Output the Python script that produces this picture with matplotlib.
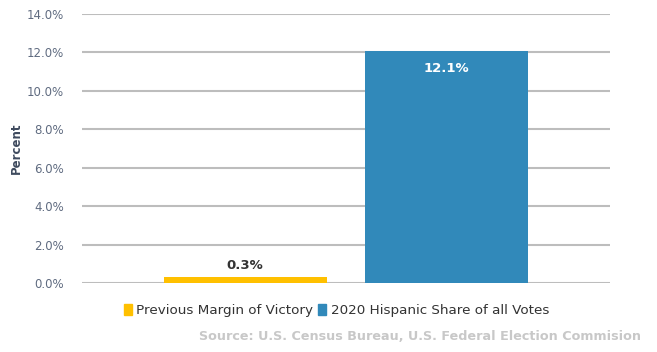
import matplotlib
matplotlib.use('Agg')
import matplotlib.pyplot as plt
from matplotlib.ticker import FuncFormatter

plt.rcParams['font.family'] = ['DejaVu Sans']

series = ["Previous Margin of Victory", "2020 Hispanic Share of all Votes"]
values = [0.3, 12.1]
colors = ['#FFC000', '#3189BA']
yticks = [0, 2, 4, 6, 8, 10, 12, 14]

fig = plt.figure(figsize=(6.57, 3.52), dpi=100)
ax = fig.add_axes([0.1248, 0.196, 0.8037, 0.764])

x = list(range(len(values)))
bars = ax.bar(x, values, width=0.81, color=colors, zorder=3, label=series)

ax.set_xlim(-0.81, 1.81)
ax.set_ylim(0, 14)
ax.set_yticks(yticks)
ax.yaxis.set_major_formatter(FuncFormatter(lambda v, p: '%.1f%%' % v))
ax.set_xticks([])
ax.tick_params(axis='y', length=0, pad=13, labelsize=8.5, labelcolor='#5F6B80')
ax.grid(axis='y', color='#BDBDBD', linewidth=1.5, zorder=0)
for s in ax.spines.values():
    s.set_visible(False)

ax.set_ylabel('Percent', fontsize=8.5, fontweight='bold', color='#3E4A5E', labelpad=3)

# value labels
ax.text(x[0], values[0] + 0.25, '%.1f%%' % values[0], ha='center', va='bottom',
        fontsize=9.5, fontweight='bold', color='#333333')
ax.text(x[1], values[1] - 0.6, '%.1f%%' % values[1], ha='center', va='top',
        fontsize=9.5, fontweight='bold', color='white')

handles = [plt.Rectangle((0, 0), 1, 1, color=c) for c in colors]
fig.legend(handles, series, loc='center', bbox_to_anchor=(0.512, 0.118), ncol=2,
           frameon=False, fontsize=9.7, handlelength=0.6, handleheight=0.9,
           handletextpad=0.3, columnspacing=0.4, labelcolor='#333333')

fig.text(0.975, 0.025, 'Source: U.S. Census Bureau, U.S. Federal Election Commision',
         ha='right', va='bottom', fontsize=9.2, fontweight='bold', color='#C8C8C8')

fig.savefig('out.png', dpi=100)
